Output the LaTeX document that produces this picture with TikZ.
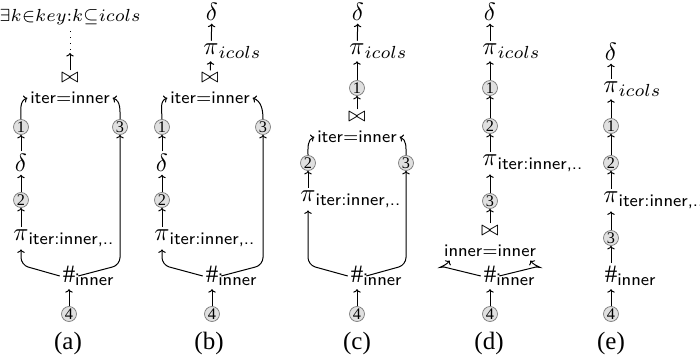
\documentclass[tikz,border=0pt]{standalone}
\usepackage{amsmath}
\usepackage{fontspec}
\setmainfont{Liberation Serif}
\usetikzlibrary{arrows.meta}
\newcommand{\opPiCols}{$\pi\rlap{$_{icols}$}$}
\newcommand{\opPiIter}{$\pi\rlap{$_{\textsf{iter:inner,..}}$}$}
\newcommand{\opHash}{\#\rlap{$_{\textsf{inner}}$}}
\newcommand{\opJoin}{\fontsize{8.5}{10}\selectfont$\bowtie$}
\newcommand{\predIter}{$\scriptstyle\textsf{iter}=\textsf{inner}$}
\newcommand{\predInner}{$\scriptstyle\textsf{inner}=\textsf{inner}$}
\begin{document}
\begin{tikzpicture}[x=0.4pt,y=-0.4pt,
  op/.style={inner sep=1pt, font=\fontsize{10}{12}\selectfont},
  num/.style={circle, draw=black!50, fill=black!12, line width=0.3pt,
    inner sep=0pt, minimum size=6pt, font=\fontsize{6.5}{7}\selectfont},
  sublabel/.style={font=\fontsize{10}{12}\selectfont},
  flow/.style={-{To[length=1.4pt,width=3pt]}, line width=0.4pt},
  bent/.style={flow, rounded corners=3pt}]
\useasboundingbox (0,0) rectangle (700,360);

% ---------------- (a) ----------------
\node[op, font=\fontsize{9.4}{11}\selectfont] (a-ex) at (70,17)
  {$\scriptstyle\exists k\in key:k\subseteq icols$};
\coordinate (a-mid) at (70,53);
\node[op] (a-join) at (70,78) {\opJoin};
\node[op] (a-pred) at (70,98) {\predIter};
\node[num] (a-c1) at (21,127) {1};
\node[num] (a-c3) at (120,127) {3};
\node[op] (a-delta) at (21,163) {$\delta$};
\node[num] (a-c2) at (21,200) {2};
\node[op] (a-pi) at (21,238) {\opPiIter};
\node[op] (a-hash) at (69,276) {\opHash};
\node[num] (a-c4) at (69,314) {4};
\node[sublabel] (a-lab) at (68,343) {(a)};
\coordinate (a-bend) at (0,265);

\draw[flow] (a-c4) -- (a-hash);
\draw[bent] (a-hash.west) -- (a-pi |- a-bend) -- (a-pi);
\draw[bent] (a-hash.east) -- (a-c3 |- a-bend) -- (a-c3);
\draw[flow] (a-pi) -- (a-c2);
\draw[flow] (a-c2) -- (a-delta);
\draw[flow] (a-delta) -- (a-c1);
\draw[flow] (a-c1) to[out=90,in=200] (a-pred.west);
\draw[flow] (a-c3) to[out=90,in=-20] (a-pred.east);
\draw[flow] (a-join) -- (a-mid);
\draw[line width=0.4pt, dotted] ([yshift=1.2pt]a-mid) -- (a-ex);

% ---------------- (b) ----------------
\node[op] (b-delta) at (212,12) {$\delta$};
\node[op] (b-pic) at (211,51) {\opPiCols};
\node[op] (b-join) at (210,78) {\opJoin};
\node[op] (b-pred) at (210,98) {\predIter};
\node[num] (b-c1) at (162,127) {1};
\node[num] (b-c3) at (263,127) {3};
\node[op] (b-delta2) at (162,163) {$\delta$};
\node[num] (b-c2) at (162,200) {2};
\node[op] (b-pi) at (162,238) {\opPiIter};
\node[op] (b-hash) at (212,276) {\opHash};
\node[num] (b-c4) at (212,314) {4};
\node[sublabel] (b-lab) at (209,343) {(b)};
\coordinate (b-bend) at (0,265);

\draw[flow] (b-c4) -- (b-hash);
\draw[bent] (b-hash.west) -- (b-pi |- b-bend) -- (b-pi);
\draw[bent] (b-hash.east) -- (b-c3 |- b-bend) -- (b-c3);
\draw[flow] (b-pi) -- (b-c2);
\draw[flow] (b-c2) -- (b-delta2);
\draw[flow] (b-delta2) -- (b-c1);
\draw[flow] (b-c1) to[out=90,in=200] (b-pred.west);
\draw[flow] (b-c3) to[out=90,in=-20] (b-pred.east);
\draw[flow] (b-join) -- (b-pic);
\draw[flow] (b-pic) -- (b-delta);

% ---------------- (c) ----------------
\node[op] (c-delta) at (358,12) {$\delta$};
\node[op] (c-pic) at (357,51) {\opPiCols};
\node[num] (c-c1) at (357,88) {1};
\node[op] (c-join) at (357,117) {\opJoin};
\node[op] (c-pred) at (357,137) {\predIter};
\node[num] (c-c2) at (308,163) {2};
\node[num] (c-c3) at (406,163) {3};
\node[op] (c-pi) at (308,199) {\opPiIter};
\node[op] (c-hash) at (357,276) {\opHash};
\node[num] (c-c4) at (357,314) {4};
\node[sublabel] (c-lab) at (357,343) {(c)};
\coordinate (c-bend) at (0,265);

\draw[flow] (c-c4) -- (c-hash);
\draw[bent] (c-hash.west) -- (c-pi |- c-bend) -- (c-pi);
\draw[bent] (c-hash.east) -- (c-c3 |- c-bend) -- (c-c3);
\draw[flow] (c-pi) -- (c-c2);
\draw[flow] (c-c2) to[out=90,in=200] (c-pred.west);
\draw[flow] (c-c3) to[out=90,in=-20] (c-pred.east);
\draw[flow] (c-join) -- (c-c1);
\draw[flow] (c-c1) -- (c-pic);
\draw[flow] (c-pic) -- (c-delta);

% ---------------- (d) ----------------
\node[op] (d-delta) at (490,12) {$\delta$};
\node[op] (d-pic) at (490,51) {\opPiCols};
\node[num] (d-c1) at (490,88) {1};
\node[num] (d-c2) at (490,126) {2};
\node[op] (d-pi) at (490,163) {\opPiIter};
\node[num] (d-c3) at (490,201) {3};
\node[op] (d-join) at (490,231) {\opJoin};
\node[op] (d-pred) at (490,251) {\predInner};
\node[op] (d-hash) at (490,276) {\opHash};
\node[num] (d-c4) at (490,314) {4};
\node[sublabel] (d-lab) at (489,343) {(d)};
\coordinate (d-bl) at (444,267);
\coordinate (d-br) at (536,267);

\draw[flow] (d-c4) -- (d-hash);
\draw[flow] (d-hash.west) -- (d-bl) .. controls +(-10,1) and +(-6,7) ..
  ([xshift=3.5pt,yshift=-0.3pt]d-pred.south west);
\draw[flow] (d-hash.east) -- (d-br) .. controls +(10,1) and +(6,7) ..
  ([xshift=-3.5pt,yshift=-0.3pt]d-pred.south east);
\draw[flow] (d-join) -- (d-c3);
\draw[flow] (d-c3) -- (d-pi);
\draw[flow] (d-pi) -- (d-c2);
\draw[flow] (d-c2) -- (d-c1);
\draw[flow] (d-c1) -- (d-pic);
\draw[flow] (d-pic) -- (d-delta);

% ---------------- (e) ----------------
\node[op] (e-delta) at (611,52) {$\delta$};
\node[op] (e-pic) at (611,89) {\opPiCols};
\node[num] (e-c1) at (611,126) {1};
\node[num] (e-c2) at (611,163) {2};
\node[op] (e-pi) at (611,200) {\opPiIter};
\node[num] (e-c3) at (611,238) {3};
\node[op] (e-hash) at (611,276) {\opHash};
\node[num] (e-c4) at (611,314) {4};
\node[sublabel] (e-lab) at (611,343) {(e)};

\draw[flow] (e-c4) -- (e-hash);
\draw[flow] (e-hash) -- (e-c3);
\draw[flow] (e-c3) -- (e-pi);
\draw[flow] (e-pi) -- (e-c2);
\draw[flow] (e-c2) -- (e-c1);
\draw[flow] (e-c1) -- (e-pic);
\draw[flow] (e-pic) -- (e-delta);
\end{tikzpicture}
\end{document}
